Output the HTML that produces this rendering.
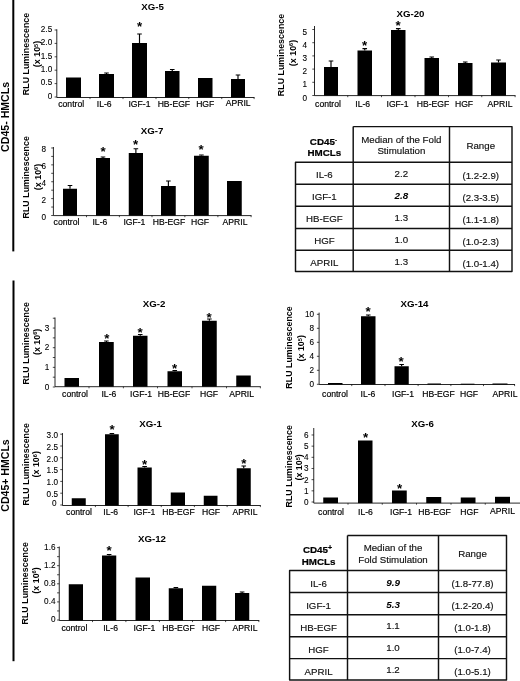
<!DOCTYPE html>
<html lang="en"><head><meta charset="utf-8"><title>Figure</title>
<style>html,body{margin:0;padding:0;background:#fff;}svg{display:block;}</style></head>
<body>
<svg width="520" height="681" viewBox="0 0 520 681" font-family="'Liberation Sans', sans-serif" fill="#000">
<rect width="520" height="681" fill="#fff"/>
<rect x="12.3" y="0" width="2" height="251.4" fill="#000"/>
<rect x="12.5" y="280.5" width="2" height="380.7" fill="#000"/>
<text transform="translate(8.8,116.9) rotate(-90)" text-anchor="middle" font-weight="bold" font-size="11.3" textLength="70" lengthAdjust="spacingAndGlyphs">CD45- HMCLs</text>
<text transform="translate(8.5,475.5) rotate(-90)" text-anchor="middle" font-weight="bold" font-size="11.3" textLength="72.5" lengthAdjust="spacingAndGlyphs">CD45+ HMCLs</text>
<g>
<path d="M56.8 29.3V97.5H254.5" fill="none" stroke="#000" stroke-width="0.85"/>
<path d="M54.599999999999994 97.00H56.8M54.599999999999994 83.60H56.8M54.599999999999994 70.20H56.8M54.599999999999994 56.80H56.8M54.599999999999994 43.40H56.8M54.599999999999994 30.00H56.8M90.00 97.5v1.6M123.00 97.5v1.6M156.00 97.5v1.6M188.75 97.5v1.6M221.75 97.5v1.6M254.1 97.5v1.6" fill="none" stroke="#000" stroke-width="0.7"/>
<text x="52.20" y="98.80" text-anchor="end" font-size="8.2" fill="#000" stroke="#000" stroke-width="0.1">0</text>
<text x="52.20" y="85.40" text-anchor="end" font-size="8.2" fill="#000" stroke="#000" stroke-width="0.1">0.5</text>
<text x="52.20" y="72.00" text-anchor="end" font-size="8.2" fill="#000" stroke="#000" stroke-width="0.1">1.0</text>
<text x="52.20" y="58.60" text-anchor="end" font-size="8.2" fill="#000" stroke="#000" stroke-width="0.1">1.5</text>
<text x="52.20" y="45.20" text-anchor="end" font-size="8.2" fill="#000" stroke="#000" stroke-width="0.1">2.0</text>
<text x="52.20" y="31.80" text-anchor="end" font-size="8.2" fill="#000" stroke="#000" stroke-width="0.1">2.5</text>
<rect x="66" y="77.5" width="15.00" height="20.00"/>
<rect x="99" y="74" width="15.00" height="23.50"/>
<path d="M106.50 74V73M104.20 73H108.80" stroke="#000" stroke-width="1.15" fill="none"/>
<rect x="132" y="43" width="15.00" height="54.50"/>
<path d="M139.50 43V34M137.20 34H141.80" stroke="#000" stroke-width="1.15" fill="none"/>
<rect x="165" y="71" width="14.50" height="26.50"/>
<path d="M172.25 71V69.5M169.95 69.5H174.55" stroke="#000" stroke-width="1.15" fill="none"/>
<rect x="198" y="78" width="14.50" height="19.50"/>
<rect x="231" y="79" width="14.00" height="18.50"/>
<path d="M238.00 79V75M235.70 75H240.30" stroke="#000" stroke-width="1.15" fill="none"/>
<text x="139.5" y="30.90" text-anchor="middle" font-size="13.3" font-weight="bold">*</text>
<text x="71.20" y="106.70" text-anchor="middle" font-size="8.6" fill="#000" stroke="#000" stroke-width="0.18">control</text>
<text x="104.20" y="106.70" text-anchor="middle" font-size="8.6" fill="#000" stroke="#000" stroke-width="0.18">IL-6</text>
<text x="139.45" y="106.70" text-anchor="middle" font-size="8.6" fill="#000" stroke="#000" stroke-width="0.18">IGF-1</text>
<text x="173.90" y="106.70" text-anchor="middle" font-size="8.6" fill="#000" stroke="#000" stroke-width="0.18">HB-EGF</text>
<text x="205.20" y="106.70" text-anchor="middle" font-size="8.6" fill="#000" stroke="#000" stroke-width="0.18">HGF</text>
<text x="238.20" y="105.70" text-anchor="middle" font-size="8.6" fill="#000" stroke="#000" stroke-width="0.18">APRIL</text>
<text x="152.5" y="10.3" text-anchor="middle" font-size="9.7" font-weight="bold">XG-5</text>
<text transform="translate(29.0,54) rotate(-90)" text-anchor="middle" font-size="8.9" font-weight="bold">RLU Luminescence</text>
<text transform="translate(40.2,54) rotate(-90)" text-anchor="middle" font-size="8.9" font-weight="bold">(x 10<tspan font-size="5.6" dy="-2.6">5</tspan><tspan dy="2.6">)</tspan></text>
</g>
<g>
<path d="M314.5 26V95.6H515.5" fill="none" stroke="#000" stroke-width="0.85"/>
<path d="M312.3 95.50H314.5M312.3 82.30H314.5M312.3 69.10H314.5M312.3 55.90H314.5M312.3 42.70H314.5M312.3 29.50H314.5M347.75 95.6v1.6M381.50 95.6v1.6M415.00 95.6v1.6M448.50 95.6v1.6M481.75 95.6v1.6M515.1 95.6v1.6" fill="none" stroke="#000" stroke-width="0.7"/>
<text x="307.00" y="100.50" text-anchor="end" font-size="8.2" fill="#000" stroke="#000" stroke-width="0.1">0</text>
<text x="307.00" y="87.30" text-anchor="end" font-size="8.2" fill="#000" stroke="#000" stroke-width="0.1">1</text>
<text x="307.00" y="74.10" text-anchor="end" font-size="8.2" fill="#000" stroke="#000" stroke-width="0.1">2</text>
<text x="307.00" y="60.90" text-anchor="end" font-size="8.2" fill="#000" stroke="#000" stroke-width="0.1">3</text>
<text x="307.00" y="47.70" text-anchor="end" font-size="8.2" fill="#000" stroke="#000" stroke-width="0.1">4</text>
<text x="307.00" y="34.50" text-anchor="end" font-size="8.2" fill="#000" stroke="#000" stroke-width="0.1">5</text>
<rect x="324" y="67" width="14.00" height="28.60"/>
<path d="M331.00 67V61M328.70 61H333.30" stroke="#000" stroke-width="1.15" fill="none"/>
<rect x="357.5" y="50.5" width="14.50" height="45.10"/>
<path d="M364.75 50.5V48.6M362.45 48.6H367.05" stroke="#000" stroke-width="1.15" fill="none"/>
<rect x="391" y="30" width="14.50" height="65.60"/>
<path d="M398.25 30V28.6M395.95 28.6H400.55" stroke="#000" stroke-width="1.15" fill="none"/>
<rect x="424.5" y="58" width="14.50" height="37.60"/>
<path d="M431.75 58V57M429.45 57H434.05" stroke="#000" stroke-width="1.15" fill="none"/>
<rect x="458" y="63" width="14.50" height="32.60"/>
<path d="M465.25 63V62M462.95 62H467.55" stroke="#000" stroke-width="1.15" fill="none"/>
<rect x="491" y="62.5" width="15.00" height="33.10"/>
<path d="M498.50 62.5V60M496.20 60H500.80" stroke="#000" stroke-width="1.15" fill="none"/>
<text x="364.5" y="49.90" text-anchor="middle" font-size="13.3" font-weight="bold">*</text>
<text x="398" y="29.90" text-anchor="middle" font-size="13.3" font-weight="bold">*</text>
<text x="328.00" y="106.70" text-anchor="middle" font-size="8.6" fill="#000" stroke="#000" stroke-width="0.18">control</text>
<text x="362.70" y="106.70" text-anchor="middle" font-size="8.6" fill="#000" stroke="#000" stroke-width="0.18">IL-6</text>
<text x="397.50" y="106.70" text-anchor="middle" font-size="8.6" fill="#000" stroke="#000" stroke-width="0.18">IGF-1</text>
<text x="433.00" y="106.70" text-anchor="middle" font-size="8.6" fill="#000" stroke="#000" stroke-width="0.18">HB-EGF</text>
<text x="464.00" y="106.70" text-anchor="middle" font-size="8.6" fill="#000" stroke="#000" stroke-width="0.18">HGF</text>
<text x="500.00" y="106.70" text-anchor="middle" font-size="8.6" fill="#000" stroke="#000" stroke-width="0.18">APRIL</text>
<text x="410.5" y="16.6" text-anchor="middle" font-size="9.7" font-weight="bold">XG-20</text>
<text transform="translate(283.90000000000003,55) rotate(-90)" text-anchor="middle" font-size="8.9" font-weight="bold">RLU Luminescence</text>
<text transform="translate(295.90000000000003,53) rotate(-90)" text-anchor="middle" font-size="8.9" font-weight="bold">(x 10<tspan font-size="5.6" dy="-2.6">6</tspan><tspan dy="2.6">)</tspan></text>
</g>
<g>
<path d="M53.4 147V215.6H251.5" fill="none" stroke="#000" stroke-width="0.85"/>
<path d="M51.199999999999996 215.50H53.4M51.199999999999996 198.62H53.4M51.199999999999996 181.74H53.4M51.199999999999996 164.86H53.4M51.199999999999996 147.98H53.4M51.199999999999996 207.06H53.4M51.199999999999996 190.18H53.4M51.199999999999996 173.30H53.4M51.199999999999996 156.42H53.4M86.50 215.6v1.6M119.38 215.6v1.6M152.00 215.6v1.6M184.88 215.6v1.6M217.88 215.6v1.6M251.1 215.6v1.6" fill="none" stroke="#000" stroke-width="0.7"/>
<text x="46.10" y="219.50" text-anchor="end" font-size="8.2" fill="#000" stroke="#000" stroke-width="0.1">0</text>
<text x="46.10" y="202.62" text-anchor="end" font-size="8.2" fill="#000" stroke="#000" stroke-width="0.1">2</text>
<text x="46.10" y="185.74" text-anchor="end" font-size="8.2" fill="#000" stroke="#000" stroke-width="0.1">4</text>
<text x="46.10" y="168.86" text-anchor="end" font-size="8.2" fill="#000" stroke="#000" stroke-width="0.1">6</text>
<text x="46.10" y="151.98" text-anchor="end" font-size="8.2" fill="#000" stroke="#000" stroke-width="0.1">8</text>
<rect x="63" y="188.75" width="14.00" height="26.85"/>
<path d="M70.00 188.75V185.5M67.70 185.5H72.30" stroke="#000" stroke-width="1.15" fill="none"/>
<rect x="96" y="158" width="14.00" height="57.60"/>
<path d="M103.00 158V157M100.70 157H105.30" stroke="#000" stroke-width="1.15" fill="none"/>
<rect x="128.75" y="153" width="14.25" height="62.60"/>
<path d="M135.88 153V148.75M133.57 148.75H138.18" stroke="#000" stroke-width="1.15" fill="none"/>
<rect x="161" y="186" width="14.75" height="29.60"/>
<path d="M168.38 186V181M166.07 181H170.68" stroke="#000" stroke-width="1.15" fill="none"/>
<rect x="194" y="155.75" width="14.75" height="59.85"/>
<path d="M201.38 155.75V155M199.07 155H203.68" stroke="#000" stroke-width="1.15" fill="none"/>
<rect x="227" y="181" width="14.75" height="34.60"/>
<text x="103" y="156.40" text-anchor="middle" font-size="13.3" font-weight="bold">*</text>
<text x="135.5" y="149.40" text-anchor="middle" font-size="13.3" font-weight="bold">*</text>
<text x="201" y="154.40" text-anchor="middle" font-size="13.3" font-weight="bold">*</text>
<text x="66.50" y="224.50" text-anchor="middle" font-size="8.6" fill="#000" stroke="#000" stroke-width="0.18">control</text>
<text x="99.90" y="224.50" text-anchor="middle" font-size="8.6" fill="#000" stroke="#000" stroke-width="0.18">IL-6</text>
<text x="134.40" y="224.50" text-anchor="middle" font-size="8.6" fill="#000" stroke="#000" stroke-width="0.18">IGF-1</text>
<text x="169.00" y="224.50" text-anchor="middle" font-size="8.6" fill="#000" stroke="#000" stroke-width="0.18">HB-EGF</text>
<text x="200.00" y="224.50" text-anchor="middle" font-size="8.6" fill="#000" stroke="#000" stroke-width="0.18">HGF</text>
<text x="235.00" y="224.50" text-anchor="middle" font-size="8.6" fill="#000" stroke="#000" stroke-width="0.18">APRIL</text>
<text x="152" y="133.7" text-anchor="middle" font-size="9.7" font-weight="bold">XG-7</text>
<text transform="translate(28.700000000000003,177.3) rotate(-90)" text-anchor="middle" font-size="8.9" font-weight="bold">RLU Luminescence</text>
<text transform="translate(40.7,177) rotate(-90)" text-anchor="middle" font-size="8.9" font-weight="bold">(x 10<tspan font-size="5.6" dy="-2.6">6</tspan><tspan dy="2.6">)</tspan></text>
</g>
<g>
<path d="M55 317.5V386.7H260.75" fill="none" stroke="#000" stroke-width="0.85"/>
<path d="M52.8 387.00H55M52.8 367.35H55M52.8 347.70H55M52.8 328.05H55M52.8 377.18H55M52.8 357.52H55M52.8 337.88H55M52.8 318.23H55M89.00 386.7v1.6M123.38 386.7v1.6M157.50 386.7v1.6M192.00 386.7v1.6M226.50 386.7v1.6M260.35 386.7v1.6" fill="none" stroke="#000" stroke-width="0.7"/>
<text x="49.40" y="389.60" text-anchor="end" font-size="8.2" fill="#000" stroke="#000" stroke-width="0.1">0</text>
<text x="49.40" y="369.95" text-anchor="end" font-size="8.2" fill="#000" stroke="#000" stroke-width="0.1">1</text>
<text x="49.40" y="350.30" text-anchor="end" font-size="8.2" fill="#000" stroke="#000" stroke-width="0.1">2</text>
<text x="49.40" y="330.65" text-anchor="end" font-size="8.2" fill="#000" stroke="#000" stroke-width="0.1">3</text>
<rect x="64.5" y="378" width="14.50" height="8.70"/>
<rect x="99" y="342" width="14.75" height="44.70"/>
<path d="M106.38 342V341M104.08 341H108.67" stroke="#000" stroke-width="1.15" fill="none"/>
<rect x="133" y="335.75" width="14.50" height="50.95"/>
<path d="M140.25 335.75V334.5M137.95 334.5H142.55" stroke="#000" stroke-width="1.15" fill="none"/>
<rect x="167.5" y="371.25" width="14.50" height="15.45"/>
<path d="M174.75 371.25V370.5M172.45 370.5H177.05" stroke="#000" stroke-width="1.15" fill="none"/>
<rect x="202" y="320.75" width="14.75" height="65.95"/>
<path d="M209.38 320.75V319M207.07 319H211.68" stroke="#000" stroke-width="1.15" fill="none"/>
<rect x="236.25" y="375.5" width="14.50" height="11.20"/>
<text x="106.75" y="342.90" text-anchor="middle" font-size="13.3" font-weight="bold">*</text>
<text x="140" y="337.40" text-anchor="middle" font-size="13.3" font-weight="bold">*</text>
<text x="174.5" y="372.90" text-anchor="middle" font-size="13.3" font-weight="bold">*</text>
<text x="209" y="321.90" text-anchor="middle" font-size="13.3" font-weight="bold">*</text>
<text x="75.00" y="397.25" text-anchor="middle" font-size="8.6" fill="#000" stroke="#000" stroke-width="0.18">control</text>
<text x="108.90" y="397.25" text-anchor="middle" font-size="8.6" fill="#000" stroke="#000" stroke-width="0.18">IL-6</text>
<text x="141.10" y="397.25" text-anchor="middle" font-size="8.6" fill="#000" stroke="#000" stroke-width="0.18">IGF-1</text>
<text x="174.00" y="397.25" text-anchor="middle" font-size="8.6" fill="#000" stroke="#000" stroke-width="0.18">HB-EGF</text>
<text x="209.00" y="397.25" text-anchor="middle" font-size="8.6" fill="#000" stroke="#000" stroke-width="0.18">HGF</text>
<text x="241.60" y="397.25" text-anchor="middle" font-size="8.6" fill="#000" stroke="#000" stroke-width="0.18">APRIL</text>
<text x="154" y="307.2" text-anchor="middle" font-size="9.7" font-weight="bold">XG-2</text>
<text transform="translate(28.900000000000002,343.3) rotate(-90)" text-anchor="middle" font-size="8.9" font-weight="bold">RLU Luminescence</text>
<text transform="translate(39.800000000000004,341.9) rotate(-90)" text-anchor="middle" font-size="8.9" font-weight="bold">(x 10<tspan font-size="5.6" dy="-2.6">6</tspan><tspan dy="2.6">)</tspan></text>
</g>
<g>
<path d="M319.1 312.6V384.5H515" fill="none" stroke="#000" stroke-width="0.85"/>
<path d="M316.90000000000003 384.30H319.1M316.90000000000003 370.30H319.1M316.90000000000003 356.30H319.1M316.90000000000003 342.30H319.1M316.90000000000003 328.30H319.1M316.90000000000003 314.30H319.1M351.75 384.5v1.6M385.00 384.5v1.6M418.12 384.5v1.6M450.88 384.5v1.6M483.50 384.5v1.6M514.6 384.5v1.6" fill="none" stroke="#000" stroke-width="0.7"/>
<text x="314.10" y="386.70" text-anchor="end" font-size="8.2" fill="#000" stroke="#000" stroke-width="0.1">0</text>
<text x="314.10" y="372.70" text-anchor="end" font-size="8.2" fill="#000" stroke="#000" stroke-width="0.1">2</text>
<text x="314.10" y="358.70" text-anchor="end" font-size="8.2" fill="#000" stroke="#000" stroke-width="0.1">4</text>
<text x="314.10" y="344.70" text-anchor="end" font-size="8.2" fill="#000" stroke="#000" stroke-width="0.1">6</text>
<text x="314.10" y="330.70" text-anchor="end" font-size="8.2" fill="#000" stroke="#000" stroke-width="0.1">8</text>
<text x="314.10" y="316.70" text-anchor="end" font-size="8.2" fill="#000" stroke="#000" stroke-width="0.1">10</text>
<rect x="328" y="383" width="14.50" height="1.50"/>
<rect x="361" y="316.25" width="14.50" height="68.25"/>
<path d="M368.25 316.25V315M365.95 315H370.55" stroke="#000" stroke-width="1.15" fill="none"/>
<rect x="394.5" y="366.25" width="14.25" height="18.25"/>
<path d="M401.62 366.25V364.5M399.32 364.5H403.93" stroke="#000" stroke-width="1.15" fill="none"/>
<rect x="427.5" y="383.5" width="13.50" height="1.00"/>
<rect x="460.75" y="383.7" width="13.75" height="0.80"/>
<rect x="492.5" y="383.5" width="15.00" height="1.00"/>
<text x="368" y="315.65" text-anchor="middle" font-size="13.3" font-weight="bold">*</text>
<text x="401" y="366.40" text-anchor="middle" font-size="13.3" font-weight="bold">*</text>
<text x="335.00" y="396.75" text-anchor="middle" font-size="8.6" fill="#000" stroke="#000" stroke-width="0.18">control</text>
<text x="368.00" y="396.75" text-anchor="middle" font-size="8.6" fill="#000" stroke="#000" stroke-width="0.18">IL-6</text>
<text x="403.00" y="396.75" text-anchor="middle" font-size="8.6" fill="#000" stroke="#000" stroke-width="0.18">IGF-1</text>
<text x="438.50" y="396.75" text-anchor="middle" font-size="8.6" fill="#000" stroke="#000" stroke-width="0.18">HB-EGF</text>
<text x="469.00" y="396.75" text-anchor="middle" font-size="8.6" fill="#000" stroke="#000" stroke-width="0.18">HGF</text>
<text x="505.00" y="396.75" text-anchor="middle" font-size="8.6" fill="#000" stroke="#000" stroke-width="0.18">APRIL</text>
<text x="414.5" y="307.2" text-anchor="middle" font-size="9.7" font-weight="bold">XG-14</text>
<text transform="translate(292.1,347.5) rotate(-90)" text-anchor="middle" font-size="8.9" font-weight="bold">RLU Luminescence</text>
<text transform="translate(304.3,348.3) rotate(-90)" text-anchor="middle" font-size="8.9" font-weight="bold">(x 10<tspan font-size="5.6" dy="-2.6">5</tspan><tspan dy="2.6">)</tspan></text>
</g>
<g>
<path d="M62.45 433V505.5H260.75" fill="none" stroke="#000" stroke-width="0.85"/>
<path d="M60.25 505.00H62.45M60.25 493.20H62.45M60.25 481.40H62.45M60.25 469.60H62.45M60.25 457.80H62.45M60.25 446.00H62.45M60.25 434.20H62.45M95.38 505.5v1.6M128.12 505.5v1.6M161.25 505.5v1.6M194.38 505.5v1.6M227.12 505.5v1.6M260.35 505.5v1.6" fill="none" stroke="#000" stroke-width="0.7"/>
<text x="56.50" y="506.30" text-anchor="end" font-size="8.2" fill="#000" stroke="#000" stroke-width="0.1">0</text>
<text x="58.00" y="496.90" text-anchor="end" font-size="8.2" fill="#000" stroke="#000" stroke-width="0.1">0.5</text>
<text x="58.00" y="485.10" text-anchor="end" font-size="8.2" fill="#000" stroke="#000" stroke-width="0.1">1.0</text>
<text x="58.00" y="473.30" text-anchor="end" font-size="8.2" fill="#000" stroke="#000" stroke-width="0.1">1.5</text>
<text x="58.00" y="461.50" text-anchor="end" font-size="8.2" fill="#000" stroke="#000" stroke-width="0.1">2.0</text>
<text x="58.00" y="449.70" text-anchor="end" font-size="8.2" fill="#000" stroke="#000" stroke-width="0.1">2.5</text>
<text x="58.00" y="437.90" text-anchor="end" font-size="8.2" fill="#000" stroke="#000" stroke-width="0.1">3.0</text>
<rect x="71.75" y="498.25" width="14.00" height="7.25"/>
<rect x="105" y="434.25" width="13.75" height="71.25"/>
<path d="M111.88 434.25V433.5M109.58 433.5H114.17" stroke="#000" stroke-width="1.15" fill="none"/>
<rect x="137.5" y="467.5" width="14.25" height="38.00"/>
<path d="M144.62 467.5V466.5M142.32 466.5H146.93" stroke="#000" stroke-width="1.15" fill="none"/>
<rect x="170.75" y="492.5" width="14.25" height="13.00"/>
<rect x="203.75" y="495.75" width="13.75" height="9.75"/>
<rect x="236.75" y="468.25" width="14.00" height="37.25"/>
<path d="M243.75 468.25V466M241.45 466H246.05" stroke="#000" stroke-width="1.15" fill="none"/>
<text x="112" y="433.90" text-anchor="middle" font-size="13.3" font-weight="bold">*</text>
<text x="144.5" y="468.90" text-anchor="middle" font-size="13.3" font-weight="bold">*</text>
<text x="243.75" y="467.90" text-anchor="middle" font-size="13.3" font-weight="bold">*</text>
<text x="79.00" y="515.05" text-anchor="middle" font-size="8.6" fill="#000" stroke="#000" stroke-width="0.18">control</text>
<text x="110.75" y="515.05" text-anchor="middle" font-size="8.6" fill="#000" stroke="#000" stroke-width="0.18">IL-6</text>
<text x="144.40" y="515.05" text-anchor="middle" font-size="8.6" fill="#000" stroke="#000" stroke-width="0.18">IGF-1</text>
<text x="178.50" y="515.05" text-anchor="middle" font-size="8.6" fill="#000" stroke="#000" stroke-width="0.18">HB-EGF</text>
<text x="211.00" y="515.05" text-anchor="middle" font-size="8.6" fill="#000" stroke="#000" stroke-width="0.18">HGF</text>
<text x="245.00" y="514.55" text-anchor="middle" font-size="8.6" fill="#000" stroke="#000" stroke-width="0.18">APRIL</text>
<text x="150.5" y="426.7" text-anchor="middle" font-size="9.7" font-weight="bold">XG-1</text>
<text transform="translate(29.0,464.3) rotate(-90)" text-anchor="middle" font-size="8.9" font-weight="bold">RLU Luminescence</text>
<text transform="translate(39.4,464.3) rotate(-90)" text-anchor="middle" font-size="8.9" font-weight="bold">(x 10<tspan font-size="5.6" dy="-2.6">6</tspan><tspan dy="2.6">)</tspan></text>
</g>
<g>
<path d="M313.75 428V503.1H520" fill="none" stroke="#000" stroke-width="0.85"/>
<path d="M311.55 502.00H313.75M311.55 490.83H313.75M311.55 479.66H313.75M311.55 468.49H313.75M311.55 457.32H313.75M311.55 446.15H313.75M311.55 434.98H313.75M348.00 503.1v1.6M382.25 503.1v1.6M416.50 503.1v1.6M451.00 503.1v1.6M485.25 503.1v1.6" fill="none" stroke="#000" stroke-width="0.7"/>
<text x="308.60" y="504.90" text-anchor="end" font-size="8.2" fill="#000" stroke="#000" stroke-width="0.1">0</text>
<text x="308.60" y="493.73" text-anchor="end" font-size="8.2" fill="#000" stroke="#000" stroke-width="0.1">1</text>
<text x="308.60" y="482.56" text-anchor="end" font-size="8.2" fill="#000" stroke="#000" stroke-width="0.1">2</text>
<text x="308.60" y="471.39" text-anchor="end" font-size="8.2" fill="#000" stroke="#000" stroke-width="0.1">3</text>
<text x="308.60" y="460.22" text-anchor="end" font-size="8.2" fill="#000" stroke="#000" stroke-width="0.1">4</text>
<text x="308.60" y="449.05" text-anchor="end" font-size="8.2" fill="#000" stroke="#000" stroke-width="0.1">5</text>
<text x="308.60" y="437.88" text-anchor="end" font-size="8.2" fill="#000" stroke="#000" stroke-width="0.1">6</text>
<rect x="323.25" y="497.5" width="14.75" height="5.60"/>
<rect x="358" y="440.5" width="14.50" height="62.60"/>
<rect x="392" y="490.5" width="14.75" height="12.60"/>
<rect x="426.25" y="497" width="15.00" height="6.10"/>
<rect x="460.75" y="497.5" width="14.75" height="5.60"/>
<rect x="495" y="496.8" width="15.00" height="6.30"/>
<text x="365.5" y="441.90" text-anchor="middle" font-size="13.3" font-weight="bold">*</text>
<text x="399.5" y="493.15" text-anchor="middle" font-size="13.3" font-weight="bold">*</text>
<text x="331.00" y="515.45" text-anchor="middle" font-size="8.6" fill="#000" stroke="#000" stroke-width="0.18">control</text>
<text x="365.50" y="515.45" text-anchor="middle" font-size="8.6" fill="#000" stroke="#000" stroke-width="0.18">IL-6</text>
<text x="401.00" y="515.45" text-anchor="middle" font-size="8.6" fill="#000" stroke="#000" stroke-width="0.18">IGF-1</text>
<text x="434.60" y="515.45" text-anchor="middle" font-size="8.6" fill="#000" stroke="#000" stroke-width="0.18">HB-EGF</text>
<text x="469.40" y="515.45" text-anchor="middle" font-size="8.6" fill="#000" stroke="#000" stroke-width="0.18">HGF</text>
<text x="502.50" y="514.20" text-anchor="middle" font-size="8.6" fill="#000" stroke="#000" stroke-width="0.18">APRIL</text>
<text x="422.5" y="426.7" text-anchor="middle" font-size="9.7" font-weight="bold">XG-6</text>
<text transform="translate(291.5,466.3) rotate(-90)" text-anchor="middle" font-size="8.9" font-weight="bold">RLU Luminescence</text>
<text transform="translate(302.20000000000005,467.4) rotate(-90)" text-anchor="middle" font-size="8.9" font-weight="bold">(x 10<tspan font-size="5.6" dy="-2.6">5</tspan><tspan dy="2.6">)</tspan></text>
</g>
<g>
<path d="M59.25 546.5V620.5H259.25" fill="none" stroke="#000" stroke-width="0.85"/>
<path d="M57.05 620.00H59.25M57.05 601.90H59.25M57.05 583.80H59.25M57.05 565.70H59.25M57.05 547.60H59.25M57.05 610.95H59.25M57.05 592.85H59.25M57.05 574.75H59.25M57.05 556.65H59.25M92.50 620.5v1.6M125.88 620.5v1.6M159.38 620.5v1.6M192.50 620.5v1.6M225.62 620.5v1.6M258.85 620.5v1.6" fill="none" stroke="#000" stroke-width="0.7"/>
<text x="55.50" y="622.40" text-anchor="end" font-size="8.2" fill="#000" stroke="#000" stroke-width="0.1">0</text>
<text x="55.50" y="604.30" text-anchor="end" font-size="8.2" fill="#000" stroke="#000" stroke-width="0.1">0.4</text>
<text x="55.50" y="586.20" text-anchor="end" font-size="8.2" fill="#000" stroke="#000" stroke-width="0.1">0.8</text>
<text x="55.50" y="568.10" text-anchor="end" font-size="8.2" fill="#000" stroke="#000" stroke-width="0.1">1.2</text>
<text x="55.50" y="550.00" text-anchor="end" font-size="8.2" fill="#000" stroke="#000" stroke-width="0.1">1.6</text>
<rect x="68.75" y="584.25" width="14.25" height="36.25"/>
<rect x="102" y="555.5" width="14.25" height="65.00"/>
<path d="M109.12 555.5V554.5M106.83 554.5H111.42" stroke="#000" stroke-width="1.15" fill="none"/>
<rect x="135.5" y="577.5" width="14.50" height="43.00"/>
<rect x="168.75" y="588.25" width="14.25" height="32.25"/>
<path d="M175.88 588.25V587.5M173.57 587.5H178.18" stroke="#000" stroke-width="1.15" fill="none"/>
<rect x="202" y="585.75" width="14.25" height="34.75"/>
<rect x="235" y="593" width="14.25" height="27.50"/>
<path d="M242.12 593V592M239.82 592H244.43" stroke="#000" stroke-width="1.15" fill="none"/>
<text x="109" y="555.15" text-anchor="middle" font-size="13.3" font-weight="bold">*</text>
<text x="74.40" y="631.00" text-anchor="middle" font-size="8.6" fill="#000" stroke="#000" stroke-width="0.18">control</text>
<text x="110.60" y="631.00" text-anchor="middle" font-size="8.6" fill="#000" stroke="#000" stroke-width="0.18">IL-6</text>
<text x="144.40" y="631.00" text-anchor="middle" font-size="8.6" fill="#000" stroke="#000" stroke-width="0.18">IGF-1</text>
<text x="178.50" y="631.00" text-anchor="middle" font-size="8.6" fill="#000" stroke="#000" stroke-width="0.18">HB-EGF</text>
<text x="211.00" y="631.00" text-anchor="middle" font-size="8.6" fill="#000" stroke="#000" stroke-width="0.18">HGF</text>
<text x="245.00" y="631.00" text-anchor="middle" font-size="8.6" fill="#000" stroke="#000" stroke-width="0.18">APRIL</text>
<text x="152" y="541.6" text-anchor="middle" font-size="9.7" font-weight="bold">XG-12</text>
<text transform="translate(27.900000000000002,583.3) rotate(-90)" text-anchor="middle" font-size="8.9" font-weight="bold">RLU Luminescence</text>
<text transform="translate(38.9,580.5) rotate(-90)" text-anchor="middle" font-size="8.9" font-weight="bold">(x 10<tspan font-size="5.6" dy="-2.6">6</tspan><tspan dy="2.6">)</tspan></text>
</g>
<path d="M353.2 126.6H512V271.5H295.5V162.2H512M353.2 126.6V271.5M449.5 126.6V271.5M295.5 184.2H512M295.5 206.3H512M295.5 228.4H512M295.5 250.3H512" fill="none" stroke="#111" stroke-width="1.45" stroke-linejoin="round"/>
<text transform="translate(323.35,144.70) scale(1,1.0)" text-anchor="middle" font-size="9.8" font-weight="bold" stroke="#000" stroke-width="0.22">CD45<tspan font-size="6" dy="-3.2">-</tspan></text>
<text transform="translate(324.35,155.90) scale(1,1.0)" text-anchor="middle" font-size="9.8" font-weight="bold" stroke="#000" stroke-width="0.22">HMCLs</text>
<text transform="translate(401.35,142.70) scale(1,1.0)" text-anchor="middle" font-size="9.7" fill="#111" stroke="#111" stroke-width="0.16">Median of the Fold</text>
<text transform="translate(401.35,154.10) scale(1,1.0)" text-anchor="middle" font-size="9.7" fill="#111" stroke="#111" stroke-width="0.16">Stimulation</text>
<text transform="translate(480.75,148.70) scale(1,1.0)" text-anchor="middle" font-size="9.7" fill="#111" stroke="#111" stroke-width="0.16">Range</text>
<text transform="translate(324.35,178.00) scale(1,1.0)" text-anchor="middle" font-size="9.7" fill="#111" stroke="#111" stroke-width="0.16">IL-6</text>
<text transform="translate(401.35,176.80) scale(1,1.0)" text-anchor="middle" font-size="9.7" fill="#111" stroke="#111" stroke-width="0.16">2.2</text>
<text transform="translate(480.75,178.80) scale(1,1.0)" text-anchor="middle" font-size="9.7" fill="#111" stroke="#111" stroke-width="0.16">(1.2-2.9)</text>
<text transform="translate(324.35,200.05) scale(1,1.0)" text-anchor="middle" font-size="9.7" fill="#111" stroke="#111" stroke-width="0.16">IGF-1</text>
<text transform="translate(401.35,198.85) scale(1,1.0)" text-anchor="middle" font-size="9.899999999999999" font-weight="bold" font-style="italic">2.8</text>
<text transform="translate(480.75,200.85) scale(1,1.0)" text-anchor="middle" font-size="9.7" fill="#111" stroke="#111" stroke-width="0.16">(2.3-3.5)</text>
<text transform="translate(324.35,222.15) scale(1,1.0)" text-anchor="middle" font-size="9.7" fill="#111" stroke="#111" stroke-width="0.16">HB-EGF</text>
<text transform="translate(401.35,220.95) scale(1,1.0)" text-anchor="middle" font-size="9.7" fill="#111" stroke="#111" stroke-width="0.16">1.3</text>
<text transform="translate(480.75,222.95) scale(1,1.0)" text-anchor="middle" font-size="9.7" fill="#111" stroke="#111" stroke-width="0.16">(1.1-1.8)</text>
<text transform="translate(324.35,244.15) scale(1,1.0)" text-anchor="middle" font-size="9.7" fill="#111" stroke="#111" stroke-width="0.16">HGF</text>
<text transform="translate(401.35,242.95) scale(1,1.0)" text-anchor="middle" font-size="9.7" fill="#111" stroke="#111" stroke-width="0.16">1.0</text>
<text transform="translate(480.75,244.95) scale(1,1.0)" text-anchor="middle" font-size="9.7" fill="#111" stroke="#111" stroke-width="0.16">(1.0-2.3)</text>
<text transform="translate(324.35,265.70) scale(1,1.0)" text-anchor="middle" font-size="9.7" fill="#111" stroke="#111" stroke-width="0.16">APRIL</text>
<text transform="translate(401.35,264.50) scale(1,1.0)" text-anchor="middle" font-size="9.7" fill="#111" stroke="#111" stroke-width="0.16">1.3</text>
<text transform="translate(480.75,266.50) scale(1,1.0)" text-anchor="middle" font-size="9.7" fill="#111" stroke="#111" stroke-width="0.16">(1.0-1.4)</text>
<path d="M347.5 535.5H506.5V679.9H289.6V570.5H506.5M347.5 535.5V679.9M438.5 535.5V679.9M289.6 592.5H506.5M289.6 614.7H506.5M289.6 636.7H506.5M289.6 658.6H506.5" fill="none" stroke="#111" stroke-width="1.45" stroke-linejoin="round"/>
<text transform="translate(317.55,553.30) scale(1,1.0)" text-anchor="middle" font-size="9.8" font-weight="bold" stroke="#000" stroke-width="0.22">CD45<tspan font-size="7" dy="-3.2">+</tspan></text>
<text transform="translate(318.55,564.50) scale(1,1.0)" text-anchor="middle" font-size="9.8" font-weight="bold" stroke="#000" stroke-width="0.22">HMCLs</text>
<text transform="translate(393.00,551.30) scale(1,1.0)" text-anchor="middle" font-size="9.7" fill="#111" stroke="#111" stroke-width="0.16">Median of the</text>
<text transform="translate(393.00,562.70) scale(1,1.0)" text-anchor="middle" font-size="9.7" fill="#111" stroke="#111" stroke-width="0.16">Fold Stimulation</text>
<text transform="translate(472.50,557.30) scale(1,1.0)" text-anchor="middle" font-size="9.7" fill="#111" stroke="#111" stroke-width="0.16">Range</text>
<text transform="translate(318.55,587.00) scale(1,1.0)" text-anchor="middle" font-size="9.7" fill="#111" stroke="#111" stroke-width="0.16">IL-6</text>
<text transform="translate(393.00,586.00) scale(1,1.0)" text-anchor="middle" font-size="9.899999999999999" font-weight="bold" font-style="italic">9.9</text>
<text transform="translate(472.50,587.10) scale(1,1.0)" text-anchor="middle" font-size="9.7" fill="#111" stroke="#111" stroke-width="0.16">(1.8-77.8)</text>
<text transform="translate(318.55,609.10) scale(1,1.0)" text-anchor="middle" font-size="9.7" fill="#111" stroke="#111" stroke-width="0.16">IGF-1</text>
<text transform="translate(393.00,608.10) scale(1,1.0)" text-anchor="middle" font-size="9.899999999999999" font-weight="bold" font-style="italic">5.3</text>
<text transform="translate(472.50,609.20) scale(1,1.0)" text-anchor="middle" font-size="9.7" fill="#111" stroke="#111" stroke-width="0.16">(1.2-20.4)</text>
<text transform="translate(318.55,631.20) scale(1,1.0)" text-anchor="middle" font-size="9.7" fill="#111" stroke="#111" stroke-width="0.16">HB-EGF</text>
<text transform="translate(393.00,629.30) scale(1,1.0)" text-anchor="middle" font-size="9.7" fill="#111" stroke="#111" stroke-width="0.16">1.1</text>
<text transform="translate(472.50,631.30) scale(1,1.0)" text-anchor="middle" font-size="9.7" fill="#111" stroke="#111" stroke-width="0.16">(1.0-1.8)</text>
<text transform="translate(318.55,653.15) scale(1,1.0)" text-anchor="middle" font-size="9.7" fill="#111" stroke="#111" stroke-width="0.16">HGF</text>
<text transform="translate(393.00,651.25) scale(1,1.0)" text-anchor="middle" font-size="9.7" fill="#111" stroke="#111" stroke-width="0.16">1.0</text>
<text transform="translate(472.50,653.25) scale(1,1.0)" text-anchor="middle" font-size="9.7" fill="#111" stroke="#111" stroke-width="0.16">(1.0-7.4)</text>
<text transform="translate(318.55,674.75) scale(1,1.0)" text-anchor="middle" font-size="9.7" fill="#111" stroke="#111" stroke-width="0.16">APRIL</text>
<text transform="translate(393.00,672.85) scale(1,1.0)" text-anchor="middle" font-size="9.7" fill="#111" stroke="#111" stroke-width="0.16">1.2</text>
<text transform="translate(472.50,674.85) scale(1,1.0)" text-anchor="middle" font-size="9.7" fill="#111" stroke="#111" stroke-width="0.16">(1.0-5.1)</text>
</svg>
</body></html>
